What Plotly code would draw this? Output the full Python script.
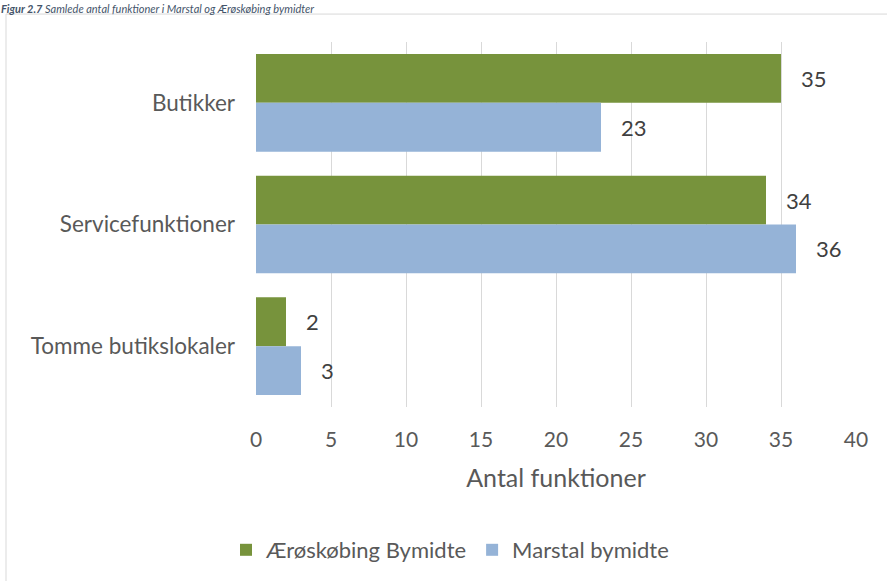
import plotly.graph_objects as go

categories = ["Butikker", "Servicefunktioner", "Tomme butikslokaler"]
aeroskobing = [35, 34, 2]
marstal = [23, 36, 3]
x_ticks = [0, 5, 10, 15, 20, 25, 30, 35, 40]

FONT = "Lato"
W, H = 887, 581
L, T = 256, 42
PW, PH = 600, 366
R, B = W - L - PW, H - T - PH

def px(x):
    return (x - L) / PW

def py(y):
    return (T + PH - y) / PH

fig = go.Figure()
fig.add_trace(go.Bar(
    y=categories, x=aeroskobing, orientation="h", name="Ærøskøbing Bymidte",
    marker=dict(color="#77933C", line=dict(width=0)),
    text=aeroskobing, texttemplate="   %{x}", textposition="outside",
    textfont=dict(family=FONT, size=22, color="#404040"), cliponaxis=False,
))
fig.add_trace(go.Bar(
    y=categories, x=marstal, orientation="h", name="Marstal bymidte",
    marker=dict(color="#95B3D7", line=dict(width=0)),
    text=marstal, texttemplate="   %{x}", textposition="outside",
    textfont=dict(family=FONT, size=22, color="#404040"), cliponaxis=False,
))

fig.update_layout(
    width=W, height=H,
    margin=dict(l=L, r=R, t=T, b=B),
    paper_bgcolor="white", plot_bgcolor="white",
    barmode="group", bargap=0.197, bargroupgap=0,
    font=dict(family=FONT, color="#595959"),
    xaxis=dict(
        range=[0, 40], tickvals=x_ticks, showgrid=True, gridcolor="#D9D9D9",
        gridwidth=1, zeroline=False, showline=False, ticks="",
        tickfont=dict(family=FONT, size=21, color="#595959"), ticklabelstandoff=18,
        title=dict(text="Antal funktioner", font=dict(family=FONT, size=25, color="#595959"), standoff=19),
    ),
    yaxis=dict(
        autorange="reversed", showgrid=False, zeroline=False, showline=False,
        ticks="", tickfont=dict(family=FONT, size=22.5, color="#595959"), ticklabelstandoff=20,
    ),
    legend=dict(
        orientation="h", x=px(226), xanchor="left", y=py(550), yanchor="middle",
        font=dict(family=FONT, size=22, color="#595959"), itemwidth=30,
        traceorder="normal",
    ),
    shapes=[dict(
        type="rect", xref="paper", yref="paper",
        x0=px(6), x1=px(W + 10), y0=py(H + 10), y1=py(14),
        line=dict(color="#D9D9D9", width=1), fillcolor="rgba(0,0,0,0)", layer="below",
    )],
    annotations=[dict(
        xref="paper", yref="paper", x=px(0), y=py(1), xanchor="left", yanchor="top",
        showarrow=False, borderpad=0,
        text="<b><i>Figur 2.7</i></b><i> Samlede antal funktioner i Marstal og Ærøskøbing bymidter</i>",
        font=dict(family=FONT, size=11, color="#44546A"),
    )],
)

fig.write_html("out.html", config={"displayModeBar": False},
               post_script="document.body.style.margin='0';")
